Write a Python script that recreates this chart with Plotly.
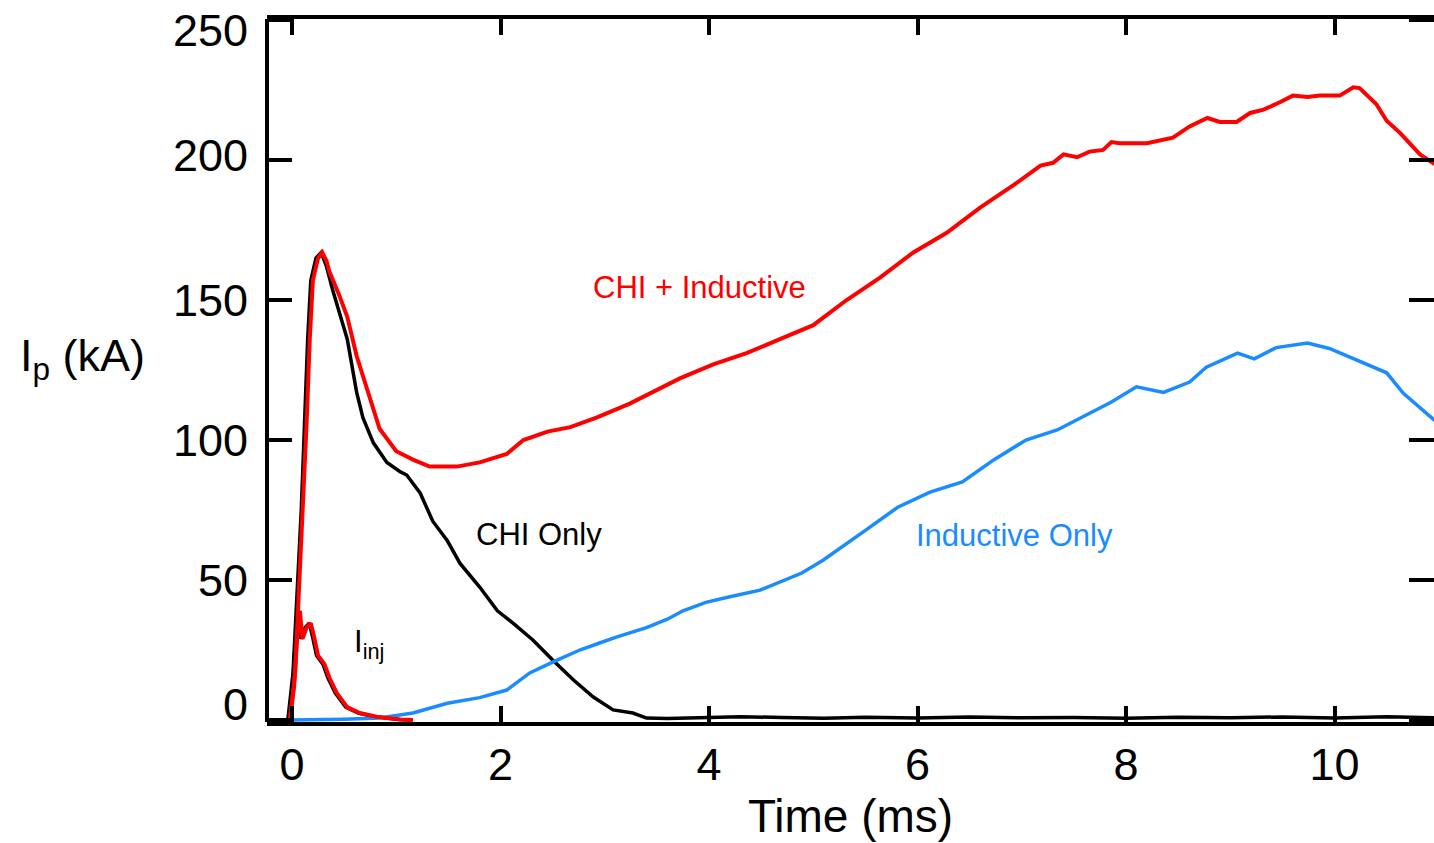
import plotly.graph_objects as go

# CHI + Inductive (red)
chi_ind_t = [-0.24, -0.02, 0.03, 0.06, 0.11, 0.14, 0.17, 0.20, 0.25, 0.29, 0.33, 0.36, 0.45, 0.53, 0.62, 0.72, 0.84, 1.0, 1.16, 1.32, 1.58, 1.8, 2.06, 2.22, 2.45, 2.67, 2.92, 3.24, 3.5, 3.72, 4.04, 4.36, 4.68, 5.0, 5.32, 5.64, 5.96, 6.28, 6.6, 6.92, 7.18, 7.3, 7.4, 7.53, 7.65, 7.78, 7.86, 7.94, 8.2, 8.45, 8.61, 8.78, 8.9, 9.06, 9.19, 9.32, 9.48, 9.6, 9.74, 9.86, 10.05, 10.18, 10.24, 10.4, 10.5, 10.63, 10.82, 10.96]
chi_ind_i = [0, 0, 17, 40, 76, 106, 136, 157, 165, 167, 164, 160, 152, 144, 130, 118, 104, 96, 93, 90.5, 90.5, 92, 95, 100, 103, 104.6, 108, 113, 118, 122, 127, 131, 136, 141, 150, 158, 167, 174, 183, 191, 198, 199, 202, 201, 203, 203.6, 206.4, 206, 206, 208, 212, 215, 213.6, 213.6, 216.8, 218, 220.7, 223, 222.5, 223, 223, 226, 225.7, 220, 214, 209.6, 202, 198.5]

# CHI Only (black)
chi_only_t = [-0.24, -0.04, 0.01, 0.04, 0.09, 0.12, 0.15, 0.18, 0.23, 0.28, 0.33, 0.39, 0.46, 0.53, 0.62, 0.68, 0.78, 0.91, 1.04, 1.1, 1.23, 1.35, 1.49, 1.61, 1.8, 1.97, 2.12, 2.31, 2.5, 2.7, 2.89, 3.08, 3.27, 3.4, 3.6, 3.9, 4.3, 4.7, 5.1, 5.5, 6.0, 6.5, 7.0, 7.5, 8.0, 8.5, 9.0, 9.5, 10.0, 10.5, 10.96]
chi_only_i = [0, 0, 17, 40, 76, 106, 136, 157, 165, 167, 162, 153.6, 145, 136, 117, 108, 99, 92, 88.6, 87.5, 81, 71, 64, 56, 47.5, 39, 34.6, 28.6, 21.4, 14.3, 8.2, 3.6, 2.5, 0.7, 0.5, 0.8, 1.2, 0.9, 0.6, 1.0, 0.7, 1.1, 0.8, 0.9, 0.6, 1.0, 0.8, 1.1, 0.7, 1.2, 0.8]

# Inductive Only (blue)
ind_only_t = [0.0, 0.3, 0.5, 0.84, 1.16, 1.49, 1.8, 2.06, 2.28, 2.5, 2.76, 2.95, 3.11, 3.4, 3.6, 3.75, 3.97, 4.2, 4.49, 4.89, 5.09, 5.51, 5.81, 6.12, 6.43, 6.73, 7.04, 7.34, 7.65, 7.86, 8.1, 8.36, 8.61, 8.77, 9.07, 9.23, 9.44, 9.74, 9.95, 10.2, 10.5, 10.66, 10.96]
ind_only_i = [0, 0, 0.3, 0.7, 2.5, 6, 8, 10.7, 16.8, 20.7, 25, 27.5, 29.6, 33, 36, 39, 42, 44, 46.4, 52.5, 57, 68, 76, 81.4, 85, 92.9, 100, 103.6, 109.6, 113.6, 119, 117, 120.7, 126, 131, 129, 133, 134.6, 132.7, 128.6, 124, 116.7, 107]

# Injector current (red, with black underneath)
iinj_t = [-0.24, -0.02, 0.02, 0.05, 0.075, 0.1, 0.14, 0.18, 0.21, 0.25, 0.31, 0.36, 0.43, 0.53, 0.65, 0.81, 1.04, 1.16]
iinj_i = [0, 0, 12, 30, 39, 29, 33, 34.6, 30, 23, 20, 15, 9.6, 4.6, 2.5, 1.2, 0.2, 0]
iinj_chi_t = [-0.24, -0.035, 0.005, 0.035, 0.06, 0.085, 0.125, 0.165, 0.195, 0.235, 0.295, 0.345, 0.415, 0.515, 0.635, 0.795, 1.025, 1.15]
iinj_chi_i = [0, 0, 12, 30, 39, 29, 33, 34.6, 30, 23, 20, 15, 9.6, 4.6, 2.5, 1.2, 0.2, 0]

x_ticks = [0, 2, 4, 6, 8, 10]
y_ticks = [0, 50, 100, 150, 200, 250]
# label anchor positions (the end labels sit slightly inside the frame, as in the original)
y_label_pos = [5.4, 50, 100, 150, 201.5, 246.4]

RED = "#ff0000"
BLUE = "#1a8cff"
BLACK = "#000000"
FONT = "Liberation Sans, Arial, Helvetica, sans-serif"

fig = go.Figure()
fig.add_trace(go.Scatter(x=chi_only_t, y=chi_only_i, mode="lines", line=dict(color=BLACK, width=3.5), hoverinfo="skip"))
fig.add_trace(go.Scatter(x=iinj_chi_t, y=iinj_chi_i, mode="lines", line=dict(color=BLACK, width=3.5), hoverinfo="skip"))
fig.add_trace(go.Scatter(x=ind_only_t, y=ind_only_i, mode="lines", line=dict(color=BLUE, width=3.5), hoverinfo="skip"))
fig.add_trace(go.Scatter(x=chi_ind_t, y=chi_ind_i, mode="lines", line=dict(color=RED, width=4), hoverinfo="skip"))
fig.add_trace(go.Scatter(x=iinj_t, y=iinj_i, mode="lines", line=dict(color=RED, width=4), hoverinfo="skip"))

annotations = [
    dict(text="CHI + Inductive", x=3.91, y=154.6, xref="x", yref="y", showarrow=False,
         font=dict(size=31, color=RED, family=FONT)),
    dict(text="CHI Only", x=2.37, y=66.4, xref="x", yref="y", showarrow=False,
         font=dict(size=31, color=BLACK, family=FONT)),
    dict(text="Inductive Only", x=6.93, y=66, xref="x", yref="y", showarrow=False,
         font=dict(size=31, color=BLUE, family=FONT)),
    dict(text="I<sub>inj</sub>", x=0.575, y=27, xref="x", yref="y", xanchor="left", showarrow=False,
         font=dict(size=31, color=BLACK, family=FONT)),
    dict(text="I<sub>p</sub> (kA)", x=-0.2134, y=129, xref="paper", yref="y", xanchor="left", showarrow=False,
         font=dict(size=45, color=BLACK, family=FONT)),
]
for v, pos in zip(y_ticks, y_label_pos):
    annotations.append(dict(text=str(v), x=-0.0146, y=pos, xref="paper", yref="y",
                            xanchor="right", yanchor="middle", showarrow=False,
                            font=dict(size=45, color=BLACK, family=FONT)))

fig.update_layout(
    width=1434, height=843,
    margin=dict(l=267, r=0, t=19, b=121),
    paper_bgcolor="white", plot_bgcolor="white",
    showlegend=False,
    font=dict(family=FONT, color="black"),
    xaxis=dict(
        range=[-0.24, 10.954], tickvals=x_ticks, ticktext=[str(v) for v in x_ticks],
        ticks="inside", ticklen=16, tickwidth=4, tickcolor="black",
        showline=True, linewidth=4, linecolor="black", mirror="ticks",
        showgrid=False, zeroline=False,
        tickfont=dict(size=45, family=FONT),
        title=dict(text="Time (ms)", font=dict(size=46, family=FONT), standoff=6),
    ),
    yaxis=dict(
        range=[-0.71, 250.36], tickvals=y_ticks, showticklabels=False,
        ticks="inside", ticklen=25, tickwidth=4, tickcolor="black",
        showline=False, mirror="ticks",
        showgrid=False, zeroline=False,
    ),
    shapes=[dict(type="line", xref="paper", yref="paper", x0=0, x1=0, y0=0, y1=1,
                 line=dict(color="black", width=4))],
    annotations=annotations,
)

fig.write_html("out.html")
